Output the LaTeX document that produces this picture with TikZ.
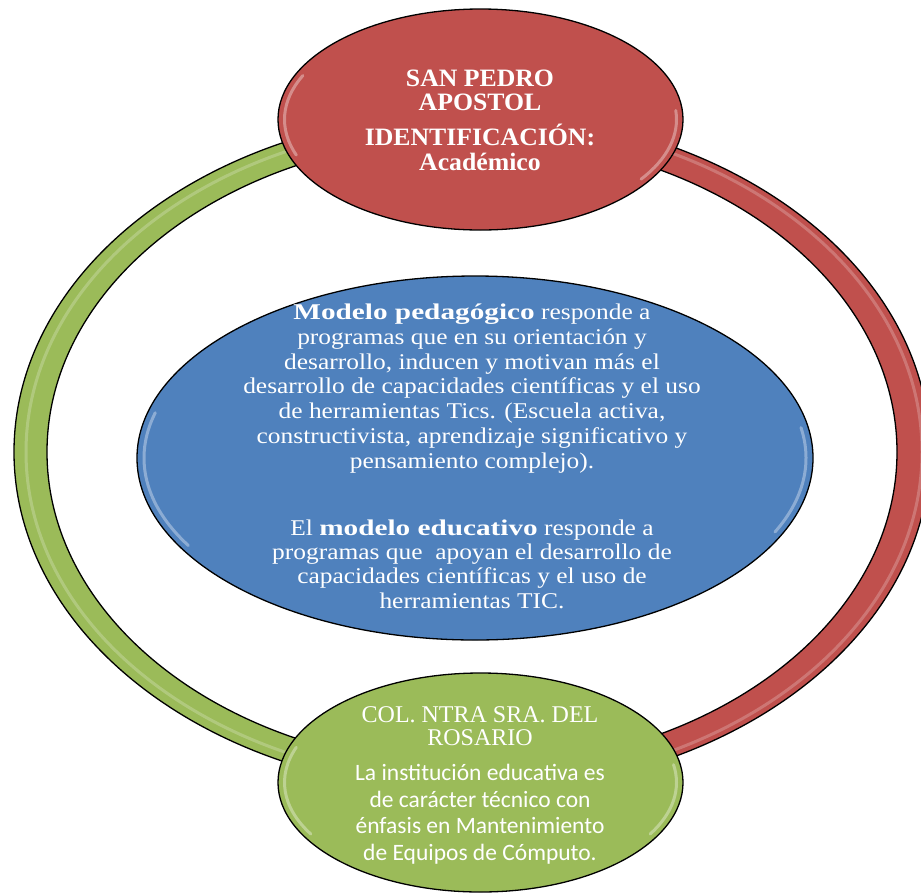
\documentclass[tikz,border=0pt]{standalone}
\usepackage{fontspec}
\setmainfont{Liberation Serif}
\newfontfamily\redfont[FakeStretch=1.03]{Liberation Serif}
\newfontfamily\blueserif[FakeStretch=1.13]{Liberation Serif}
\newfontfamily\bluebold[FakeStretch=1.3]{Liberation Serif Bold}
\newfontfamily\carlito{Carlito}
\usetikzlibrary{shapes.geometric}
\definecolor{cred}{HTML}{C0504D}
\definecolor{cgreen}{HTML}{9BBB59}
\definecolor{cblue}{HTML}{4F81BD}
\newcommand\linestack[2]{\vtop{\baselineskip=#1\lineskiplimit=-1000pt\halign{\hfil##\hfil\cr#2\crcr}}}
\begin{document}
\begin{tikzpicture}[x=1pt,y=-1pt,
  bubble/.style={ellipse, draw=black, line width=1.3pt, inner sep=0pt, outer sep=0pt},
  txt/.style={anchor=base, inner sep=0pt, outer sep=0pt, text=white},
  ringline/.style={draw=black, line width=1.3pt},
  gloss/.style={draw=white, opacity=0.35, line width=3pt, line cap=round},
  ringgloss/.style={draw=white, opacity=0.22, line width=3pt},
]
\useasboundingbox (0,0) rectangle (921,892);
\fill[white] (0,0) rectangle (921,892);

% ring
\coordinate (rc) at (472,452);
\begin{scope}
  \clip (0,0) rectangle (472,892);
  \fill[cgreen, even odd rule] (rc) ellipse [x radius=458, y radius=339.5] (rc) ellipse [x radius=425, y radius=314.5];
  \draw[ringgloss] (rc) ellipse [x radius=446, y radius=330.5];
  \draw[ringline] (rc) ellipse [x radius=458, y radius=339.5];
  \draw[ringline] (rc) ellipse [x radius=425, y radius=314.5];
\end{scope}
\begin{scope}
  \clip (472,0) rectangle (921,892);
  \fill[cred, even odd rule] (rc) ellipse [x radius=458, y radius=339.5] (rc) ellipse [x radius=425, y radius=314.5];
  \draw[ringgloss] (rc) ellipse [x radius=450, y radius=333.5];
  \draw[ringline] (rc) ellipse [x radius=458, y radius=339.5];
  \draw[ringline] (rc) ellipse [x radius=425, y radius=314.5];
\end{scope}

% nodes
\node[bubble, fill=cred, minimum width=405pt, minimum height=221pt] (top) at (480.5,119.5) {};
\node[bubble, fill=cblue, minimum width=676pt, minimum height=364pt] (mid) at (475,458) {};
\node[bubble, fill=cgreen, minimum width=405pt, minimum height=219pt] (bot) at (480.5,782.5) {};

% gloss highlights
\draw[gloss] (top.center) ++(160:196 and 104) arc[start angle=160, end angle=205, x radius=196, y radius=104];
\draw[gloss] (top.center) ++(-5:196 and 104) arc[start angle=-5, end angle=35, x radius=196, y radius=104];
\draw[gloss] (mid.center) ++(150:331 and 175) arc[start angle=150, end angle=195, x radius=331, y radius=175];
\draw[gloss] (mid.center) ++(-10:331 and 175) arc[start angle=-10, end angle=25, x radius=331, y radius=175];
\draw[gloss] (bot.center) ++(150:196 and 103) arc[start angle=150, end angle=200, x radius=196, y radius=103];
\draw[gloss] (bot.center) ++(-10:196 and 103) arc[start angle=-10, end angle=30, x radius=196, y radius=103];

% texts
\node[txt] (t1) at (480,86) {\redfont\bfseries\fontsize{25pt}{25pt}\selectfont\linestack{24.6pt}{SAN PEDRO\cr APOSTOL}};
\node[txt] (t2) at (480,145) {\redfont\bfseries\fontsize{25pt}{25pt}\selectfont\linestack{25pt}{IDENTIFICACIÓN:\cr Académico}};

\node[txt] (b1) at (472,319.3) {\blueserif\fontsize{22.5pt}{24.8pt}\selectfont\linestack{24.85pt}{{\bluebold Modelo pedagógico} responde a\cr programas que en su orientación y\cr desarrollo, inducen y motivan más el\cr desarrollo de capacidades científicas y el uso\cr de herramientas Tics. (Escuela activa,\cr constructivista, aprendizaje significativo y\cr pensamiento complejo).}};
\node[txt] (b2) at (472,535) {\blueserif\fontsize{22.5pt}{24.8pt}\selectfont\linestack{24.4pt}{El {\bluebold modelo educativo} responde a\cr programas que\ \ apoyan el desarrollo de\cr capacidades científicas y el uso de\cr herramientas TIC.}};

\node[txt] (g1) at (480,722.3) {\fontsize{24pt}{23pt}\selectfont\linestack{23pt}{COL. NTRA SRA. DEL\cr ROSARIO}};
\node[txt] (g2) at (480,780.7) {\carlito\fontsize{23.5pt}{26.6pt}\selectfont\linestack{26.6pt}{La institución educativa es\cr de carácter técnico con\cr énfasis en Mantenimiento\cr de Equipos de Cómputo.}};
\end{tikzpicture}
\end{document}
